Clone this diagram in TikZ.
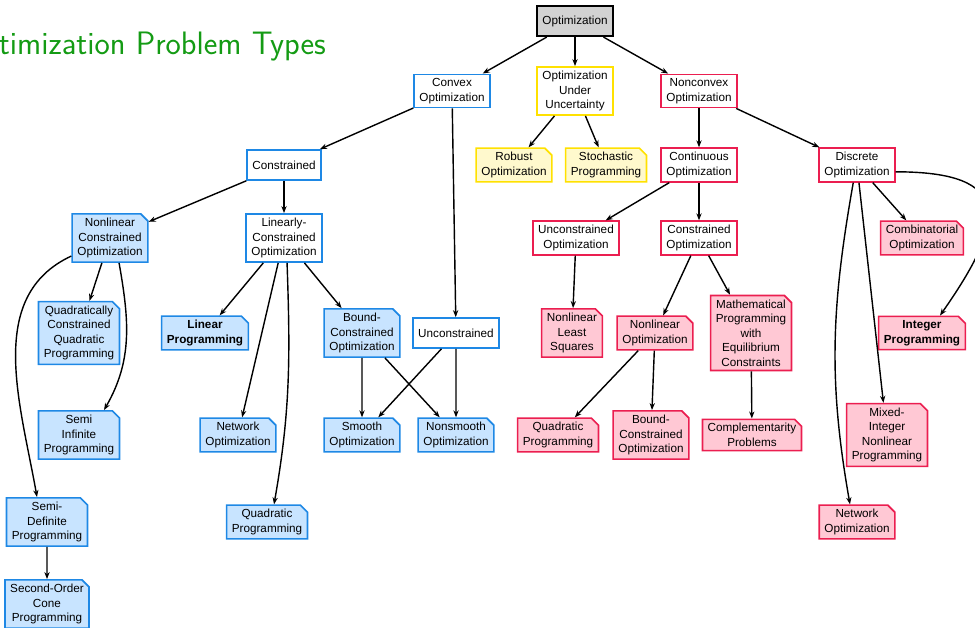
\documentclass[tikz,border=0pt]{standalone}
\usepackage{fontspec}
\setmainfont{Liberation Sans}
\usetikzlibrary{arrows.meta,shapes.misc}
\definecolor{cvxblue}{RGB}{30,136,229}
\definecolor{cvxfill}{RGB}{200,228,255}
\definecolor{ncvxred}{RGB}{235,30,80}
\definecolor{ncvxfill}{RGB}{255,200,212}
\definecolor{uncyellow}{RGB}{255,225,0}
\definecolor{uncfill}{RGB}{255,249,205}
\definecolor{rootgray}{RGB}{210,210,210}
\definecolor{titlegreen}{RGB}{20,155,20}

\begin{document}
\begin{tikzpicture}[
            x=0.03cm, y=-0.03cm,
            font=\fontsize{10}{12.4}\selectfont,
            box/.style={draw, line width=1.4pt, fill=white, align=center, inner xsep=4.5pt, inner ysep=3.5pt, minimum height=0.9cm},
            leaf/.style={box, chamfered rectangle, chamfered rectangle corners=north east, chamfered rectangle xsep=3pt, chamfered rectangle ysep=3pt, inner xsep=1.5pt, inner ysep=0.5pt, minimum height=0pt},
            cvx/.style={draw=cvxblue},
            cvxleaf/.style={leaf, draw=cvxblue, fill=cvxfill},
            ncvx/.style={draw=ncvxred},
            ncvxleaf/.style={leaf, draw=ncvxred, fill=ncvxfill},
            unc/.style={draw=uncyellow},
            uncleaf/.style={leaf, draw=uncyellow, fill=uncfill},
            edge/.style={-{Stealth[length=6pt,width=4.5pt]}, line width=1.2pt}
        ]
            \useasboundingbox (0,0) rectangle (975,628);

            \node[anchor=base east, text=titlegreen, font=\sffamily\fontsize{27.7}{32}\selectfont] (title) at (330,55) {Optimization Problem Types};

            \node[box, fill=rootgray, line width=1.8pt] (opt) at (575,21) {Optimization};

            \node[box, cvx] (cvx) at (452,91) {Convex\\Optimization};
            \node[box, unc] (unc) at (575,91) {Optimization\\Under\\Uncertainty};
            \node[box, ncvx] (ncvx) at (699,91) {Nonconvex\\Optimization};

            \node[uncleaf] (rob) at (514,165) {Robust\\Optimization};
            \node[uncleaf] (sto) at (606,165) {Stochastic\\Programming};
            \node[box, ncvx] (cont) at (699,165) {Continuous\\Optimization};
            \node[box, ncvx] (disc) at (857,165) {Discrete\\Optimization};
            \node[box, cvx] (cvxcon) at (284,165) {Constrained};

            \node[cvxleaf] (nlc) at (110,238) {Nonlinear\\Constrained\\Optimization};
            \node[box, cvx] (lin) at (284,238) {Linearly-\\Constrained\\Optimization};
            \node[box, ncvx] (ucon) at (576,238) {Unconstrained\\Optimization};
            \node[box, ncvx] (con) at (699,238) {Constrained\\Optimization};
            \node[ncvxleaf] (comb) at (922,238) {Combinatorial\\Optimization};

            \node[cvxleaf] (qcqp) at (79,333) {Quadratically\\Constrained\\Quadratic\\Programming};
            \node[cvxleaf] (lp) at (205,333) {\textbf{Linear}\\\textbf{Programming}};
            \node[cvxleaf] (bco) at (362,333) {Bound-\\Constrained\\Optimization};
            \node[box, cvx] (cvxucon) at (456,333) {Unconstrained};
            \node[ncvxleaf] (nlls) at (572,333) {Nonlinear\\Least\\Squares};
            \node[ncvxleaf] (nlo) at (655,333) {Nonlinear\\Optimization};
            \node[ncvxleaf] (mpec) at (751,333) {Mathematical\\Programming\\with\\Equilibrium\\Constraints};
            \node[ncvxleaf] (ip) at (922,333) {\textbf{Integer}\\\textbf{Programming}};

            \node[cvxleaf] (sip) at (79,435) {Semi\\Infinite\\Programming};
            \node[cvxleaf] (netc) at (238,435) {Network\\Optimization};
            \node[cvxleaf] (smooth) at (362,435) {Smooth\\Optimization};
            \node[cvxleaf] (nsmooth) at (456,435) {Nonsmooth\\Optimization};
            \node[ncvxleaf] (qpr) at (558,435) {Quadratic\\Programming};
            \node[ncvxleaf] (bcor) at (651,435) {Bound-\\Constrained\\Optimization};
            \node[ncvxleaf] (cp) at (752,435) {Complementarity\\Problems};
            \node[ncvxleaf] (minlp) at (887,435) {Mixed-\\Integer\\Nonlinear\\Programming};

            \node[cvxleaf] (sdp) at (47,522) {Semi-\\Definite\\Programming};
            \node[cvxleaf] (qpc) at (267,522) {Quadratic\\Programming};
            \node[ncvxleaf] (netr) at (857,522) {Network\\Optimization};

            \node[cvxleaf] (socp) at (47,604) {Second-Order\\Cone\\Programming};

            \draw[edge] (opt) -- (cvx);
            \draw[edge] (opt) -- (unc);
            \draw[edge] (opt) -- (ncvx);
            \draw[edge] (unc) -- (rob);
            \draw[edge] (unc) -- (sto);
            \draw[edge] (ncvx) -- (cont);
            \draw[edge] (ncvx) -- (disc);
            \draw[edge] (cvx) -- (cvxcon);
            \draw[edge] (cvx) -- (cvxucon);
            \draw[edge] (cvxcon) -- (nlc);
            \draw[edge] (cvxcon) -- (lin);
            \draw[edge] (nlc) -- (qcqp);
            \draw[edge] (nlc.-70) to[out=-80, in=60] ([xshift=0.75cm]sip.north);
            \draw[edge] (nlc.205) to[out=205, in=100] ([xshift=-0.3cm]sdp.north);
            \draw[edge] (sdp) -- (socp);
            \draw[edge] (lin) -- (lp);
            \draw[edge] (lin) -- (netc);
            \draw[edge] (lin.-83) to[out=-88, in=80] ([xshift=0.21cm]qpc.north);
            \draw[edge] (lin) -- (bco);
            \draw[edge] (bco) -- (smooth);
            \draw[edge] (bco) -- (nsmooth);
            \draw[edge] (cvxucon) -- (smooth);
            \draw[edge] (cvxucon) -- (nsmooth);
            \draw[edge] (cont) -- (ucon);
            \draw[edge] (cont) -- (con);
            \draw[edge] (ucon) -- (nlls);
            \draw[edge] (con) -- (nlo);
            \draw[edge] (con) -- (mpec);
            \draw[edge] (nlo) -- (qpr);
            \draw[edge] (nlo) -- (bcor);
            \draw[edge] (mpec) -- (cp);
            \draw[edge] (disc) -- (comb);
            \draw[edge] (disc.-10) to[out=0, in=55, looseness=2] ([xshift=0.54cm]ip.north);
            \draw[edge] (disc) -- (minlp);
            \draw[edge] (disc.-102) to[out=-100, in=100] ([xshift=-0.21cm]netr.north);
        \end{tikzpicture}
\end{document}
